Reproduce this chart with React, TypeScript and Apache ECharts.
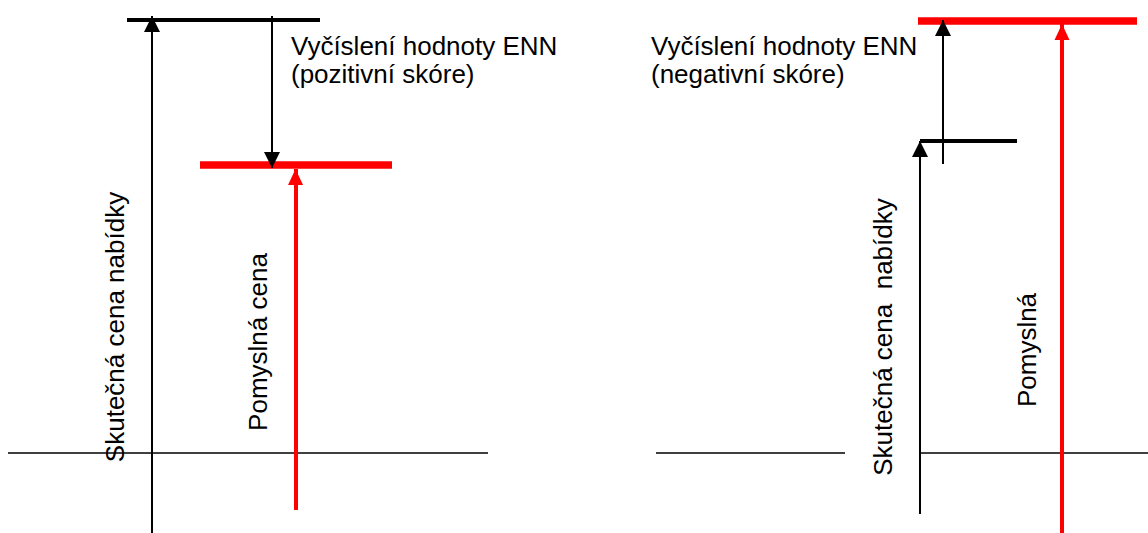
import React, { useEffect, useRef } from "react";
import * as echarts from "echarts";

// Diagram geometry (diagram units = canvas pixels, y grows downward)
type Seg = [number, number, number, number];

const blackArrows: Seg[] = [
  [152, 533, 152, 16],
  [272, 16, 272, 168],
  [920, 514, 920, 141],
  [943, 164, 943, 20],
];
const redArrows: Seg[] = [
  [295.5, 510, 295.5, 169],
  [1062, 533, 1062, 24],
];
const axisLines: Seg[] = [
  [8, 453, 488, 453],
  [656, 453, 845, 453],
  [920, 453, 1148, 453],
];
const blackBars: Seg[] = [
  [127, 20, 320, 20],
  [920, 140.5, 1017, 140.5],
];
const redBars: Seg[] = [
  [200, 165, 392, 165],
  [918, 21, 1137, 21],
];

const labelsLeft = ["Vyčíslení hodnoty ENN", "(pozitivní skóre)"];
const labelsRight = ["Vyčíslení hodnoty ENN", "(negativní skóre)"];
const verticalLabels = ["Skutečná cena nabídky", "Pomyslná cena", "Skutečná cena  nabídky", "Pomyslná"];

const toData = (segs: Seg[]) => segs.map((s) => ({ coords: [[s[0], s[1]], [s[2], s[3]]] }));
const heads = (segs: Seg[], h: number) =>
  segs.map((s) => {
    const up = s[3] < s[1];
    return {
      value: [s[2], s[3]],
      symbolRotate: up ? 0 : 180,
      symbolOffset: [0, up ? h / 2 : -h / 2],
    };
  });

export default function App() {
  const ref = useRef<HTMLDivElement>(null);
  useEffect(() => {
    if (!ref.current) return;
    const chart = echarts.init(ref.current, null, { renderer: "svg" });
    const font = "Liberation Sans, Arial, sans-serif";
    const txt = (text: string, x: number, y: number, rot = 0, align = "left", vAlign = "middle") => ({
      type: "text",
      x,
      y,
      rotation: rot,
      style: {
        text,
        fill: "#000",
        fontFamily: font,
        fontSize: 26,
        lineHeight: 28,
        align,
        verticalAlign: vAlign,
      },
    });
    const lineSeries = (data: Seg[], color: string, width: number) => ({
      type: "lines",
      coordinateSystem: "cartesian2d",
      lineStyle: { color, width, opacity: 1 },
      symbol: "none",
      data: toData(data),
      silent: true,
    });
    chart.setOption({
      animation: false,
      backgroundColor: "#fff",
      grid: { left: 0, right: 0, top: 0, bottom: 0 },
      xAxis: { type: "value", min: 0, max: 1148, show: false },
      yAxis: { type: "value", min: 0, max: 533, inverse: true, show: false },
      series: [
        lineSeries(axisLines, "#000", 1.5),
        lineSeries(blackBars, "#000", 4),
        lineSeries(redBars, "#ff0000", 7.5),
        lineSeries(blackArrows, "#000", 2),
        lineSeries(redArrows, "#ff0000", 4),
        {
          type: "scatter",
          symbol: "triangle",
          symbolSize: [16, 16],
          itemStyle: { color: "#000", opacity: 1 },
          data: heads(blackArrows, 16),
          silent: true,
        },
        {
          type: "scatter",
          symbol: "triangle",
          symbolSize: [15, 16],
          itemStyle: { color: "#ff0000", opacity: 1 },
          data: heads(redArrows, 16),
          silent: true,
        },
      ],
      graphic: [
        txt(labelsLeft.join("\n"), 291, 32, 0, "left", "top"),
        txt(labelsRight.join("\n"), 651, 32, 0, "left", "top"),
        txt(verticalLabels[0], 115, 327, Math.PI / 2, "center"),
        txt(verticalLabels[1], 258, 342, Math.PI / 2, "center"),
        txt(verticalLabels[2], 883, 337, Math.PI / 2, "center"),
        txt(verticalLabels[3], 1027, 350, Math.PI / 2, "center"),
      ],
    });
    return () => chart.dispose();
  }, []);
  return (
    <div
      ref={ref}
      style={{ position: "fixed", left: 0, top: 0, width: 1148, height: 533, background: "#fff" }}
    />
  );
}
